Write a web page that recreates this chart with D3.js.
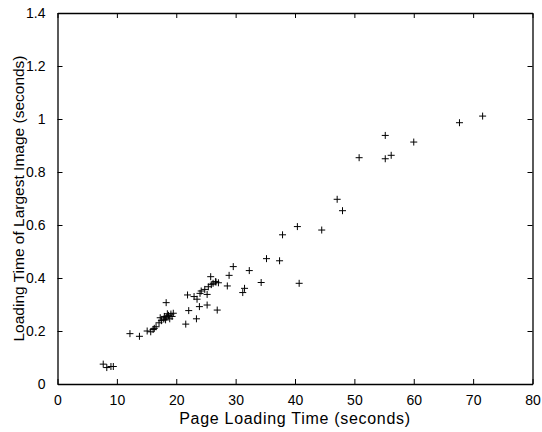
<!DOCTYPE html>
<html>
<head>
<meta charset="utf-8">
<script src="https://cdn.jsdelivr.net/npm/d3@7"></script>
<style>
  body { margin: 0; background: #fff; }
  svg text { font-family: "Liberation Sans", Arial, sans-serif; fill: #000; }
</style>
</head>
<body>
<div id="chart"></div>
<script>
// page load time vs largest image load time (seconds)
var pageTime = [
  7.7, 8.3, 9.0, 9.4, 12.2, 13.8, 15.1, 15.7, 16.1, 16.3, 16.6, 17.1, 17.3, 17.5,
  17.9, 18.0, 18.2, 18.4, 18.5, 18.7, 18.9, 19.1, 19.3, 19.5, 18.3, 21.6, 21.9,
  22.1, 23.0, 23.4, 23.5, 23.9, 24.0, 24.2, 24.8, 25.2, 25.2, 25.4, 25.8, 25.9,
  26.2, 26.6, 26.7, 27.1, 26.9, 28.6, 28.9, 29.6, 31.2, 31.5, 32.3, 34.3, 35.2,
  37.4, 37.9, 40.4, 40.7, 44.5, 47.1, 48.0, 50.8, 55.2, 55.2, 56.2, 60.0, 67.7, 71.6
];
var imageTime = [
  0.075, 0.062, 0.066, 0.066, 0.19, 0.18, 0.2, 0.197, 0.206, 0.21, 0.216, 0.231, 0.25, 0.239,
  0.245, 0.255, 0.242, 0.252, 0.265, 0.259, 0.246, 0.264, 0.255, 0.267, 0.307, 0.226, 0.336,
  0.277, 0.33, 0.246, 0.32, 0.292, 0.342, 0.351, 0.357, 0.338, 0.298, 0.367, 0.405, 0.375,
  0.38, 0.386, 0.385, 0.382, 0.279, 0.37, 0.41, 0.443, 0.345, 0.361, 0.428, 0.383, 0.473,
  0.465, 0.563, 0.594, 0.38, 0.581, 0.697, 0.654, 0.854, 0.938, 0.85, 0.863, 0.913, 0.986, 1.011
];
var xTicks = [0, 10, 20, 30, 40, 50, 60, 70, 80];
var yTicks = [0, 0.2, 0.4, 0.6, 0.8, 1, 1.2, 1.4];

var W = 542, H = 432;
var m = {top: 13, right: 9.5, bottom: 48, left: 57.5};
var w = W - m.left - m.right, h = H - m.top - m.bottom;

var svg = d3.select("#chart").append("svg")
  .attr("width", W).attr("height", H);
var g = svg.append("g").attr("transform", "translate(" + m.left + "," + m.top + ")");

var x = d3.scaleLinear().domain([0, 80]).range([0, w]);
var y = d3.scaleLinear().domain([0, 1.4]).range([h, 0]);

// axes, ticks pointing inward like matlab
g.append("g").attr("transform", "translate(0," + h + ")")
  .call(d3.axisBottom(x).tickValues(xTicks).tickSizeInner(-5).tickSizeOuter(0).tickPadding(11));
g.append("g")
  .call(d3.axisLeft(y).tickValues(yTicks).tickFormat(d3.format("~g")).tickSizeInner(-5).tickSizeOuter(0).tickPadding(12));
g.append("g")
  .call(d3.axisTop(x).tickValues(xTicks).tickFormat("").tickSizeInner(-5).tickSizeOuter(0));
g.append("g").attr("transform", "translate(" + w + ",0)")
  .call(d3.axisRight(y).tickValues(yTicks).tickFormat("").tickSizeInner(-5).tickSizeOuter(0));

g.selectAll(".domain").attr("stroke", "#000").attr("stroke-width", 1.3);
g.selectAll(".tick line").attr("stroke", "#000");
g.selectAll(".tick text").style("font-size", "14px");

// points
var pts = pageTime.map(function(d, i){ return [d, imageTime[i]]; });
g.selectAll("path.pt").data(pts).enter().append("path")
  .attr("class", "pt")
  .attr("transform", function(d){ return "translate(" + x(d[0]) + "," + y(d[1]) + ")"; })
  .attr("d", "M-3.5,0H3.5M0,-3.5V3.5")
  .attr("stroke", "#000")
  .attr("stroke-width", 1)
  .attr("fill", "none");

// labels
svg.append("text")
  .attr("x", m.left + w / 2).attr("y", 424)
  .attr("text-anchor", "middle")
  .style("font-size", "16px")
  .style("letter-spacing", "0.7px")
  .text("Page Loading Time (seconds)");
svg.append("text")
  .attr("transform", "translate(24," + (m.top + h / 2) + ") rotate(-90)")
  .attr("text-anchor", "middle")
  .style("font-size", "15.5px")
  .text("Loading Time of Largest Image (seconds)");
</script>
</body>
</html>
